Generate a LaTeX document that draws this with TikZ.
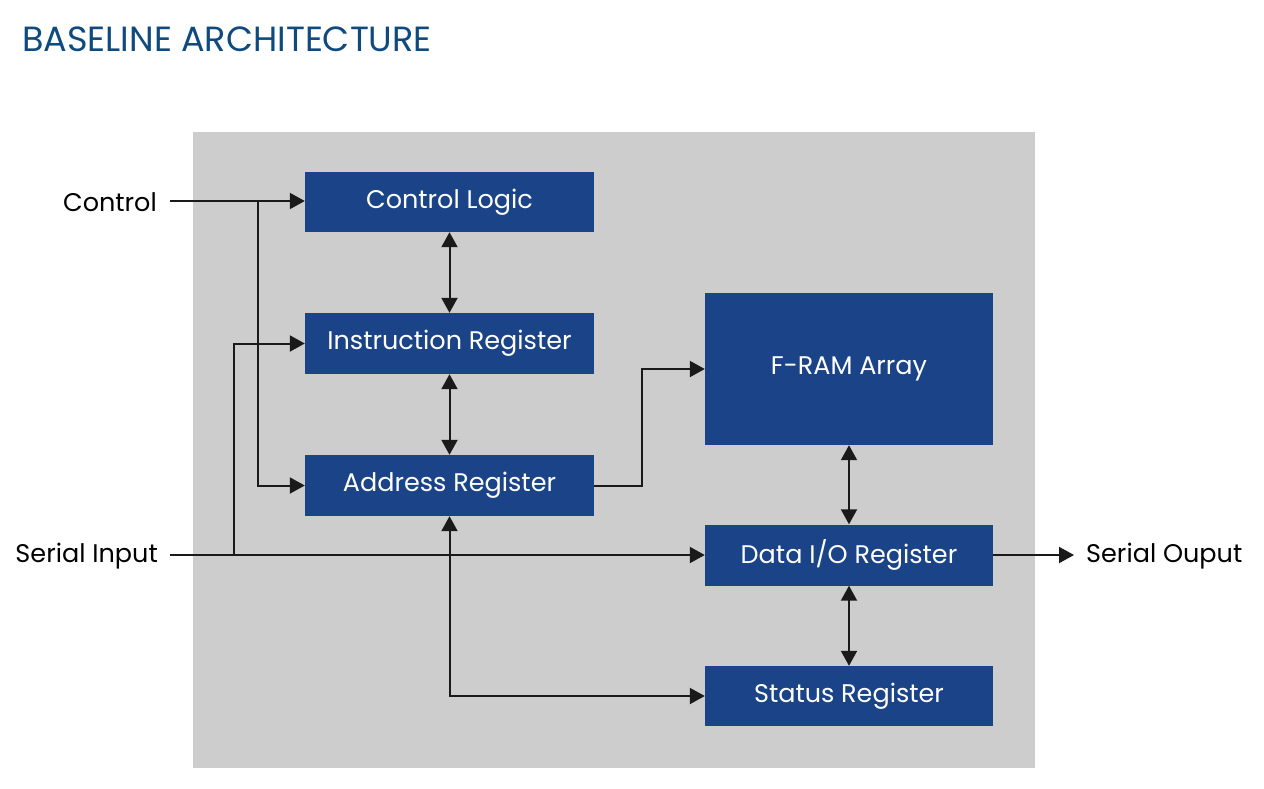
\documentclass[tikz,border=0pt]{standalone}
\usepackage{fontspec}
\setmainfont{Poppins}
\usetikzlibrary{arrows.meta}
\definecolor{boxblue}{RGB}{26,68,135}
\definecolor{titleblue}{RGB}{14,74,126}
\definecolor{panel}{RGB}{205,205,205}
\definecolor{wire}{RGB}{26,26,26}
\begin{document}
\begin{tikzpicture}[x=1pt,y=-1pt,
  blk/.style={fill=boxblue,draw=none,text=white,font=\fontsize{25.5}{30}\selectfont,inner sep=0pt},
  lbl/.style={text=black,font=\fontsize{25.5}{30}\selectfont,inner sep=0pt},
  wr/.style={draw=wire,line width=2pt,-{Triangle[length=15pt,width=16pt]}},
  wr2/.style={draw=wire,line width=2pt,{Triangle[length=15pt,width=16pt]}-{Triangle[length=15pt,width=16pt]}}]
\useasboundingbox (0,0) rectangle (1264,788);
\fill[panel] (193,132) rectangle (1035,768);
\node[anchor=base west,text=titleblue,font=\fontsize{35}{42}\selectfont,inner sep=0pt] (title) at (22,51) {BASELINE ARCHITECTURE};
\node[blk,minimum width=289pt,minimum height=60pt] (cl) at (449.5,202) {Control Logic};
\node[blk,minimum width=289pt,minimum height=61pt] (ir) at (449.5,343.5) {Instruction Register};
\node[blk,minimum width=289pt,minimum height=61pt] (ar) at (449.5,485.5) {Address Register};
\node[blk,minimum width=288pt,minimum height=152pt] (fr) at (849,369) {F-RAM Array};
\node[blk,minimum width=288pt,minimum height=61pt] (dr) at (849,555) {Data I/O Register};
\node[blk,minimum width=288pt,minimum height=60pt] (sr) at (849,696) {Status Register};
\node[lbl,anchor=east] (ctl) at (157,202) {Control};
\node[lbl,anchor=east] (sin) at (158,556) {Serial Input};
\node[lbl,anchor=west] (sout) at (1086,556) {Serial Ouput};
\coordinate (cs) at (170,201);
\coordinate (ss) at (170,555);
\coordinate (oe) at (1074,555);
\draw[wr] (cs) -- (cl.west|-cs);
\draw[wr] (258,201) |- (ar.west);
\draw[wr] (ss) -- (dr.west|-ss);
\draw[wr] (234,555) |- (ir.west);
\draw[wr] (ar.east) -| (642,369) -- (fr.west);
\draw[wr2] (cl.south) -- (ir.north);
\draw[wr2] (ir.south) -- (ar.north);
\draw[wr2] (ar.south) |- (sr.west);
\draw[wr2] (fr.south) -- (dr.north);
\draw[wr2] (dr.south) -- (sr.north);
\draw[wr] (dr.east) -- (oe);
\end{tikzpicture}
\end{document}
